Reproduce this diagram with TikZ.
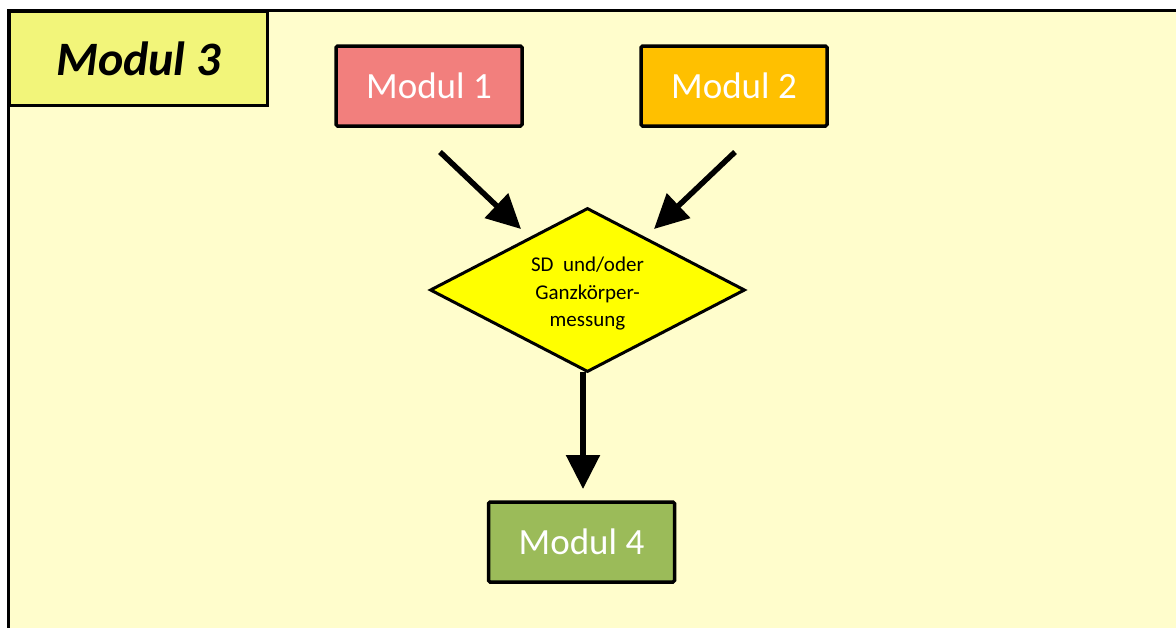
\documentclass[tikz,border=0pt]{standalone}
\usepackage{fontspec}
\setmainfont{Carlito}
\usetikzlibrary{shapes.geometric,arrows.meta}
\definecolor{panelbg}{HTML}{FFFDCC}
\definecolor{titlebg}{HTML}{F2F57A}
\definecolor{modA}{HTML}{F27F7D}
\definecolor{modB}{HTML}{FFC000}
\definecolor{modD}{HTML}{9BBB59}
\definecolor{decide}{HTML}{FFFF00}
\tikzset{
  modbox/.style={draw=black, line width=3.5pt, rounded corners=1.5pt,
    minimum width=186pt, minimum height=80pt, inner sep=0pt,
    text=white, font=\fontsize{37}{40}\selectfont},
  flowarrow/.style={line width=5.5pt, -{Triangle[length=34pt,width=33pt]}},
}
\begin{document}
\begin{tikzpicture}[x=1pt,y=-1pt]
  \useasboundingbox (0,0) rectangle (1176,627);
  % panel frame running off the right and bottom edges
  \draw[line width=3pt, fill=panelbg] (8,10) rectangle (1190,640);
  % title tab
  \node[draw=black, line width=3pt, fill=titlebg, minimum width=258pt,
        minimum height=94pt, inner sep=0pt, anchor=north west,
        font=\fontsize{48}{52}\selectfont\bfseries\itshape] (title) at (8,10) {Modul 3};
  % module boxes
  \node[modbox, fill=modA] (m1) at (429,86) {Modul 1};
  \node[modbox, fill=modB] (m2) at (734,86) {Modul 2};
  \node[modbox, fill=modD] (m4) at (581.5,542) {Modul 4};
  % decision diamond
  \node[diamond, draw=black, line width=3pt, fill=decide, aspect=1.92,
        minimum width=315pt, minimum height=164pt, inner sep=0pt] (dec) at (587.5,290) {};
  \node[align=center, inner sep=0pt, font=\fontsize{21}{27.5}\selectfont]
        (dectext) at (587.5,294) {SD~ und/oder\\Ganzkörper-\\messung};
  % arrow ends
  \coordinate (s1) at (440,152);
  \coordinate (e1) at (521,229);
  \coordinate (s2) at (735,152);
  \coordinate (e2) at (654,229);
  \coordinate (s3) at (583,372);
  \coordinate (e3) at (583,489);
  \draw[flowarrow] (s1) -- (e1);
  \draw[flowarrow] (s2) -- (e2);
  \draw[flowarrow] (s3) -- (e3);
\end{tikzpicture}
\end{document}
